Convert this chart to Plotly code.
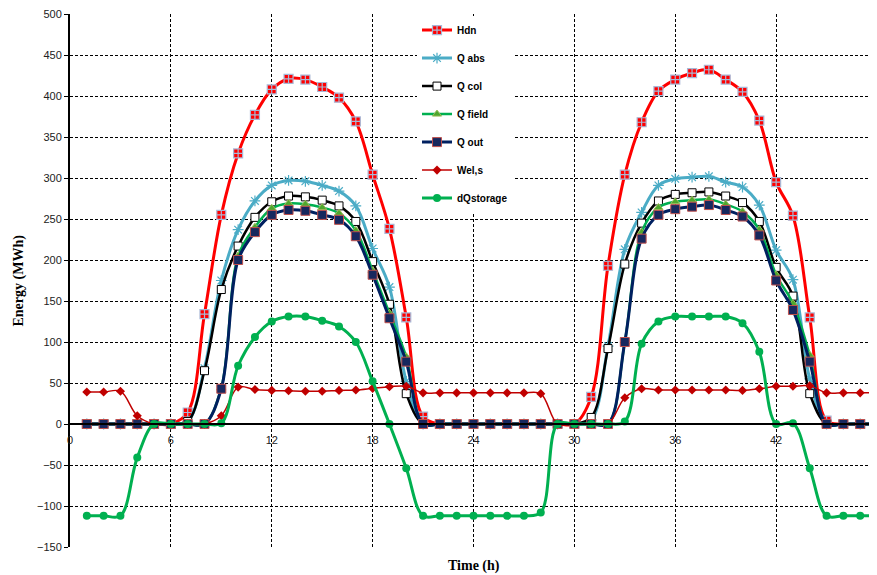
import plotly.graph_objects as go

hours = list(range(1, 49))

hdn = [0, 0, 0, 0, 0, 0, 14, 134, 255, 330, 377, 408, 421, 420, 411, 398, 369, 304, 238, 130, 9,
       0, 0, 0, 0, 0, 0, 0, 0, 0,
       33, 193, 304, 368, 406, 420, 428, 432, 420, 405, 370, 295, 254, 130, 4, 0, 0, 0]
q_abs = [0, 0, 0, 0, 0, 0, 3, 68, 175, 237, 272, 291, 297, 296, 291, 284, 266, 214, 167, 52, 0,
         0, 0, 0, 0, 0, 0, 0, 0, 0,
         5, 95, 213, 258, 291, 299, 301, 302, 295, 289, 267, 212, 176, 55, 0, 0, 0, 0]
q_col = [0, 0, 0, 0, 0, 0, 3, 65, 164, 217, 252, 271, 278, 277, 273, 266, 247, 198, 146, 37, 0,
         0, 0, 0, 0, 0, 0, 0, 0, 0,
         8, 92, 195, 245, 272, 280, 282, 283, 278, 270, 247, 191, 156, 37, 0, 0, 0, 0]
q_field = [0, 0, 0, 0, 0, 0, 0, 0, 44, 205, 240, 263, 269, 268, 264, 257, 236, 187, 135, 82, 0,
           0, 0, 0, 0, 0, 0, 0, 0, 0,
           0, 0, 100, 234, 264, 271, 273, 274, 268, 259, 237, 182, 147, 84, 0, 0, 0, 0]
q_out = [0, 0, 0, 0, 0, 0, 0, 0, 43, 200, 234, 255, 261, 260, 255, 249, 229, 182, 129, 76, 0,
         0, 0, 0, 0, 0, 0, 0, 0, 0,
         0, 0, 100, 226, 255, 262, 265, 267, 261, 253, 230, 175, 139, 76, 0, 0, 0, 0]
wel_s = [39, 39, 40, 10, 0, 0, 0, 0, 10, 45, 42, 41, 40.5, 40, 40, 41, 41.5, 43.5, 45.5, 46, 38,
         38, 38, 38, 38, 38, 38, 37, 0, 0,
         0, 0, 32, 43, 41.5, 41.5, 41.5, 41.5, 41.5, 41, 43, 46, 46, 46.5, 38, 38, 38, 38]
dq_storage = [-112, -112, -112, -41, 0, 0, 0, 0, 1, 71, 106, 125, 131, 131, 126, 119, 100, 52, 0, -54, -112,
              -112, -112, -112, -112, -112, -112, -108, 0, 0,
              0, 0, 3, 98, 125, 131, 131, 131, 131, 123, 88, 0, 1, -54, -112, -112, -112, -112]

x_ticks = [0, 6, 12, 18, 24, 30, 36, 42, 48]
y_ticks = list(range(-150, 501, 50))

series = [
    ("Hdn", hdn, dict(color="#FF0000", width=3),
     dict(symbol="square-cross", size=9, color="#FF0000", line=dict(color="#A9B8D6", width=1.2))),
    ("Q abs", q_abs, dict(color="#4BACC6", width=3),
     dict(symbol="asterisk-open", size=9, color="#4BACC6", line=dict(color="#4BACC6", width=1.2))),
    ("Q col", q_col, dict(color="#000000", width=2.5),
     dict(symbol="square", size=8, color="#FFFFFF", line=dict(color="#000000", width=1))),
    ("Q field", q_field, dict(color="#00B050", width=2.5),
     dict(symbol="triangle-up", size=8, color="#4EA72E", line=dict(color="#9BBB59", width=1))),
    ("Q out", q_out, dict(color="#002060", width=3),
     dict(symbol="square", size=9, color="#17285E", line=dict(color="#C0504D", width=1))),
    ("Wel,s", wel_s, dict(color="#C00000", width=1.5),
     dict(symbol="diamond", size=7, color="#C00000", line=dict(width=0))),
    ("dQstorage", dq_storage, dict(color="#00B050", width=3),
     dict(symbol="circle", size=8, color="#00B050", line=dict(width=0))),
]

fig = go.Figure()
for i, (name, vals, line, marker) in enumerate(series):
    fig.add_trace(go.Scatter(
        x=hours, y=vals, name="<b>" + name + "</b>", mode="lines+markers",
        line=dict(shape="spline", smoothing=1, **line), marker=marker,
        legendgroup=f"g{i}", cliponaxis=True,
    ))

zero_pos = 150 / 650

fig.update_layout(
    width=869, height=567,
    margin=dict(l=62, r=0, t=6, b=28),
    paper_bgcolor="white", plot_bgcolor="white",
    font=dict(family="Liberation Sans, Arial, sans-serif", size=11, color="#222222"),
    showlegend=True,
    legend=dict(
        x=0.43, y=0.997, xanchor="left", yanchor="top",
        bgcolor="white", borderwidth=0,
        font=dict(family="Liberation Sans, Arial, sans-serif", size=10, color="#000000"),
        traceorder="grouped", tracegroupgap=9, itemwidth=30,
    ),
    xaxis=dict(
        range=[0, 48], tickvals=x_ticks, ticktext=[str(v) for v in x_ticks],
        anchor="free", position=zero_pos,
        showline=True, linecolor="black", linewidth=1.5,
        showgrid=True, gridcolor="black", gridwidth=1, griddash="3px,2px",
        zeroline=False, ticks="", ticklabelstandoff=6,
        tickfont=dict(size=11, color="#222222"),
    ),
    yaxis=dict(
        range=[-150, 500], tickvals=y_ticks,
        showline=True, linecolor="black", linewidth=2,
        showgrid=True, gridcolor="black", gridwidth=1, griddash="3px,2px",
        zeroline=False, ticks="outside", ticklen=4, tickcolor="black",
        ticklabeloverflow="allow",
        tickfont=dict(size=11, color="#222222"),
    ),
    annotations=[
        dict(text="<b>Energy (MWh)</b>", xref="paper", yref="paper",
             x=-0.0644, y=0.5, xanchor="center", yanchor="middle",
             textangle=-90, showarrow=False,
             font=dict(family="Liberation Serif, Times New Roman, serif", size=14, color="black")),
        dict(text="<b>Time (h)</b>", xref="x", yref="paper",
             x=24, y=0, yshift=-19, yanchor="middle", showarrow=False,
             font=dict(family="Liberation Serif, Times New Roman, serif", size=14, color="black")),
    ],
)

fig.write_html("out.html")
